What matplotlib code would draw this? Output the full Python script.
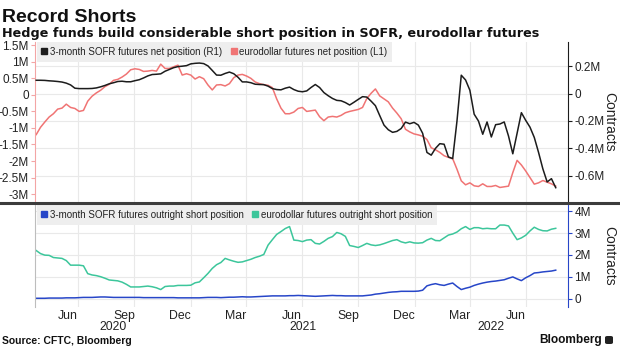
import matplotlib
matplotlib.use("Agg")
import matplotlib.pyplot as plt
import matplotlib.transforms as mtransforms
from matplotlib.lines import Line2D
from matplotlib.patches import FancyBboxPatch
from matplotlib.ticker import FuncFormatter
import pandas as pd

plt.rcParams['font.family'] = ['Liberation Sans', 'DejaVu Sans']

# Weekly CFTC positioning, millions of contracts
dates = pd.date_range('2020-04-24', periods=122, freq='7D')

sofr_net = [
    0.098, 0.098, 0.097, 0.094, 0.092, 0.089, 0.085, 0.077, 0.064, 0.040,
    0.037, 0.037, 0.037, 0.038, 0.042, 0.050, 0.060, 0.072, 0.080, 0.089,
    0.091, 0.087, 0.087, 0.095, 0.102, 0.115, 0.130, 0.140, 0.142, 0.145,
    0.164, 0.177, 0.190, 0.198, 0.201, 0.205, 0.218, 0.222, 0.224, 0.220,
    0.203, 0.170, 0.136, 0.135, 0.148, 0.158, 0.146, 0.120, 0.086, 0.086,
    0.080, 0.069, 0.067, 0.066, 0.055, 0.037, 0.030, 0.028, 0.040, 0.048,
    0.030, 0.018, 0.014, 0.020, 0.045, 0.067, 0.045, 0.008, -0.015, -0.035,
    -0.049, -0.052, -0.065, -0.083, -0.063, -0.042, -0.022, -0.025, -0.055, -0.088,
    -0.160, -0.230, -0.264, -0.283, -0.276, -0.255, -0.208, -0.220, -0.210, -0.230,
    -0.290, -0.430, -0.450, -0.400, -0.366, -0.370, -0.463, -0.475, -0.200, 0.135,
    0.100, 0.025, -0.150, -0.200, -0.297, -0.207, -0.317, -0.227, -0.222, -0.207,
    -0.310, -0.440, -0.290, -0.139, -0.195, -0.245, -0.320, -0.430, -0.550, -0.646,
    -0.622, -0.688,
]

eurodollar_net = [
    -1.20, -0.98, -0.82, -0.67, -0.57, -0.43, -0.40, -0.28, -0.38, -0.41,
    -0.50, -0.47, -0.19, -0.04, 0.06, 0.14, 0.25, 0.32, 0.44, 0.47,
    0.54, 0.63, 0.76, 0.79, 0.77, 0.71, 0.72, 0.74, 0.72, 0.93,
    0.80, 0.80, 0.85, 0.90, 0.60, 0.64, 0.60, 0.48, 0.55, 0.49,
    0.30, 0.15, 0.30, 0.31, 0.27, 0.34, 0.52, 0.60, 0.62, 0.57,
    0.50, 0.39, 0.34, 0.31, 0.29, 0.22, -0.12, -0.40, -0.57, -0.57,
    -0.52, -0.41, -0.38, -0.50, -0.48, -0.46, -0.66, -0.78, -0.67, -0.65,
    -0.67, -0.62, -0.54, -0.50, -0.47, -0.44, -0.38, -0.11, 0.05, 0.18,
    -0.03, -0.12, -0.21, -0.40, -0.55, -0.72, -1.04, -1.12, -1.18, -1.21,
    -1.25, -1.35, -1.60, -1.66, -1.74, -1.84, -1.89, -1.93, -2.25, -2.60,
    -2.72, -2.66, -2.75, -2.77, -2.69, -2.77, -2.77, -2.74, -2.80, -2.78,
    -2.76, -2.35, -1.98, -2.12, -2.30, -2.50, -2.70, -2.66, -2.59, -2.64,
    -2.69, -2.76,
]

sofr_short = [
    0.01, 0.01, 0.01, 0.02, 0.02, 0.02, 0.02, 0.03, 0.03, 0.03,
    0.04, 0.05, 0.05, 0.05, 0.06, 0.07, 0.07, 0.06, 0.05, 0.05,
    0.05, 0.05, 0.05, 0.05, 0.05, 0.04, 0.04, 0.04, 0.04, 0.04,
    0.04, 0.04, 0.04, 0.03, 0.03, 0.03, 0.03, 0.03, 0.03, 0.04,
    0.05, 0.05, 0.05, 0.04, 0.05, 0.06, 0.06, 0.07, 0.08, 0.07,
    0.07, 0.08, 0.09, 0.10, 0.11, 0.12, 0.12, 0.12, 0.12, 0.13,
    0.13, 0.14, 0.13, 0.12, 0.11, 0.10, 0.11, 0.12, 0.13, 0.14,
    0.13, 0.13, 0.12, 0.12, 0.12, 0.12, 0.12, 0.14, 0.16, 0.20,
    0.22, 0.25, 0.28, 0.30, 0.31, 0.33, 0.33, 0.33, 0.33, 0.34,
    0.38, 0.58, 0.64, 0.68, 0.63, 0.60, 0.66, 0.71, 0.55, 0.41,
    0.47, 0.52, 0.60, 0.66, 0.71, 0.75, 0.78, 0.80, 0.83, 0.86,
    0.93, 0.99, 0.90, 0.82, 0.95, 1.05, 1.17, 1.19, 1.22, 1.24,
    1.26, 1.30,
]

eurodollar_short = [
    2.20, 2.06, 1.99, 1.98, 1.88, 1.86, 1.84, 1.74, 1.53, 1.53,
    1.53, 1.50, 1.14, 1.08, 1.05, 1.00, 0.93, 0.85, 0.83, 0.81,
    0.75, 0.65, 0.53, 0.53, 0.53, 0.55, 0.57, 0.54, 0.49, 0.41,
    0.55, 0.57, 0.57, 0.60, 0.60, 0.60, 0.61, 0.72, 0.76, 0.95,
    1.15, 1.38, 1.55, 1.65, 1.84, 1.77, 1.71, 1.66, 1.68, 1.74,
    1.80, 1.88, 1.94, 2.02, 2.45, 2.70, 2.94, 3.07, 3.21, 3.30,
    2.68, 2.66, 2.61, 2.68, 2.70, 2.53, 2.50, 2.62, 2.76, 2.84,
    3.03, 2.97, 2.85, 2.43, 2.39, 2.34, 2.43, 2.53, 2.46, 2.43,
    2.46, 2.52, 2.59, 2.66, 2.70, 2.60, 2.55, 2.60, 2.55, 2.54,
    2.56, 2.68, 2.76, 2.66, 2.65, 2.78, 2.91, 2.96, 3.05, 3.20,
    3.30, 3.17, 3.25, 3.25, 3.20, 3.22, 3.20, 3.20, 3.37, 3.37,
    3.33, 3.00, 2.70, 2.78, 2.90, 3.10, 3.27, 3.17, 3.11, 3.10,
    3.18, 3.22,
]

net_left_ticks = [1.5, 1, 0.5, 0, -0.5, -1, -1.5, -2, -2.5, -3]
net_right_ticks = [0.2, 0, -0.2, -0.4, -0.6]
short_ticks = [0, 1, 2, 3, 4]
month_labels = ['Jun', 'Sep', 'Dec', 'Mar', 'Jun', 'Sep', 'Dec', 'Mar', 'Jun']
month_label_dates = pd.to_datetime([
    '2020-06-15', '2020-09-15', '2020-12-15', '2021-03-15', '2021-06-15',
    '2021-09-15', '2021-12-15', '2022-03-15', '2022-06-15'])
year_labels = ['2020', '2021', '2022']

top_legend = ['3-month SOFR futures net position (R1)',
              'eurodollar futures net position (L1)']
bottom_legend = ['3-month SOFR futures outright short position',
                 'eurodollar futures outright short position']

BLACK = '#1c1c1c'
RED = '#f07474'
PINK = '#f3a5a5'
GREEN = '#3cc69b'
BLUE = '#2746c8'
GRID = '#e9e9e9'
TEXT = '#222222'
LEGEND_BG = '#eeeeee'

W, H = 620, 348
fig = plt.figure(figsize=(W / 100, H / 100), dpi=100)
fig.patch.set_facecolor('white')


def rect(x0, y0, x1, y1):
    return [x0 / W, 1 - y1 / H, (x1 - x0) / W, (y1 - y0) / H]


def fy(py):
    return 1 - py / H


def fmt_m(v, pos=None):
    if abs(v) < 1e-9:
        return '0'
    return f'{v:g}M'


xmin = pd.Timestamp('2020-04-22')
xmax = pd.Timestamp('2022-09-08')
quarter_starts = pd.date_range('2020-07-01', '2022-07-01', freq='QS')

# ---- upper panel: net positions ----
top_rect = rect(35, 42, 568, 203)

ax_grid = fig.add_axes(top_rect)
ax_grid.set_xlim(xmin, xmax)
ax_grid.set_ylim(-0.80, 0.378)
ax_grid.set_xticks(quarter_starts)
ax_grid.set_yticks(net_right_ticks)
ax_grid.grid(True, color=GRID, lw=0.8)
ax_grid.tick_params(length=0, labelbottom=False, labelleft=False)
for s in ax_grid.spines.values():
    s.set_visible(False)

ax_l = fig.add_axes(top_rect)
ax_l.patch.set_visible(False)
ax_l.plot(dates, eurodollar_net, color=RED, lw=1.1)
ax_l.set_xlim(xmin, xmax)
ax_l.set_ylim(-3.27, 1.6)
ax_l.set_xticks([])
ax_l.set_yticks(net_left_ticks)
ax_l.yaxis.set_major_formatter(FuncFormatter(fmt_m))
for side in ('top', 'right', 'bottom'):
    ax_l.spines[side].set_visible(False)
ax_l.spines['left'].set_color(PINK)
ax_l.spines['left'].set_linewidth(0.8)
ax_l.tick_params(axis='y', color=PINK, labelcolor=TEXT, length=3, width=0.8,
                 pad=1.5, labelsize=8.5)

ax_r = ax_l.twinx()
ax_r.plot(dates, sofr_net, color=BLACK, lw=1.1)
ax_r.set_xlim(xmin, xmax)
ax_r.set_ylim(-0.80, 0.378)
ax_r.set_yticks(net_right_ticks)
ax_r.yaxis.set_major_formatter(FuncFormatter(fmt_m))
for side in ('top', 'left', 'bottom'):
    ax_r.spines[side].set_visible(False)
ax_r.spines['right'].set_color(BLACK)
ax_r.spines['right'].set_linewidth(0.8)
ax_r.tick_params(axis='y', color=BLACK, labelcolor=TEXT, length=3, width=0.8,
                 pad=1.5, labelsize=8.5)

handles = [Line2D([], [], ls='none', marker='s', ms=5, color=BLACK),
           Line2D([], [], ls='none', marker='s', ms=5, color=RED)]
leg = ax_r.legend(handles, top_legend, loc='upper left', bbox_to_anchor=(0.003, 1.0),
                  ncol=2, frameon=True, fancybox=False, facecolor=LEGEND_BG,
                  edgecolor='none', framealpha=1, fontsize=7.0, handlelength=0.6,
                  handletextpad=0.25, columnspacing=0.9, borderpad=0.5,
                  borderaxespad=0)
for t in leg.get_texts():
    t.set_color(TEXT)

# ---- lower panel: outright short positions ----
bot_rect = rect(35, 205, 568, 307)
ax_b = fig.add_axes(bot_rect)
ax_b.plot(dates, eurodollar_short, color=GREEN, lw=1.1)
ax_b.plot(dates, sofr_short, color=BLUE, lw=1.1)
ax_b.set_xlim(xmin, xmax)
ax_b.set_ylim(-0.39, 4.29)
ax_b.yaxis.tick_right()
ax_b.set_yticks(short_ticks)
ax_b.yaxis.set_major_formatter(FuncFormatter(fmt_m))
ax_b.set_xticks(quarter_starts)
ax_b.set_xticks(month_label_dates, minor=True)
ax_b.set_xticklabels(month_labels, minor=True)
ax_b.tick_params(axis='x', which='major', length=0, labelbottom=False)
ax_b.tick_params(axis='x', which='minor', length=0, labelsize=8.8, pad=2.5,
                 labelcolor=TEXT)
ax_b.grid(True, which='major', color=GRID, lw=0.8)
ax_b.set_axisbelow(True)
for side in ('top', 'bottom'):
    ax_b.spines[side].set_visible(False)
ax_b.spines['left'].set_color('#bdbdbd')
ax_b.spines['left'].set_linewidth(0.8)
ax_b.spines['right'].set_color(BLUE)
ax_b.spines['right'].set_linewidth(0.8)
ax_b.tick_params(axis='y', color=BLUE, labelcolor=TEXT, length=3, width=0.8,
                 pad=1.5, labelsize=8.5)

handles_b = [Line2D([], [], ls='none', marker='s', ms=5, color=BLUE),
             Line2D([], [], ls='none', marker='s', ms=5, color=GREEN)]
leg_b = ax_b.legend(handles_b, bottom_legend, loc='upper left',
                    bbox_to_anchor=(0.003, 1.0), ncol=2, frameon=True,
                    fancybox=False, facecolor=LEGEND_BG, edgecolor='none',
                    framealpha=1, fontsize=7.0, handlelength=0.6,
                    handletextpad=0.25, columnspacing=0.9, borderpad=0.5,
                    borderaxespad=0)
for t in leg_b.get_texts():
    t.set_color(TEXT)

# year labels centred under each calendar year's span
year_trans = mtransforms.blended_transform_factory(ax_b.transData, fig.transFigure)
year_bounds = [xmin, pd.Timestamp('2021-01-01'), pd.Timestamp('2022-01-01'), xmax]
for i, label in enumerate(year_labels):
    mid = year_bounds[i] + (year_bounds[i + 1] - year_bounds[i]) / 2
    ax_b.text(mid, fy(330), label, transform=year_trans, ha='center',
              va='baseline', fontsize=8.8, color=TEXT)

# separator between panels
fig.add_artist(Line2D([0, 1], [fy(202.5)] * 2, transform=fig.transFigure,
                      color='#3c3c3c', lw=2.2))

# axis titles
fig.text(609 / W, fy(122), 'Contracts', rotation=270, ha='center', va='center',
         fontsize=10, color=TEXT)
fig.text(609 / W, fy(256), 'Contracts', rotation=270, ha='center', va='center',
         fontsize=10, color=TEXT)

# headline, subtitle, source and branding
fig.text(2 / W, fy(22), 'Record Shorts', fontsize=14, weight='bold',
         ha='left', va='baseline', color='#111111')
fig.text(2 / W, fy(37), 'Hedge funds build considerable short position in SOFR, eurodollar futures',
         fontsize=9.15, weight='bold', ha='left', va='baseline', color='#111111',
         family=['DejaVu Sans'])
fig.text(2 / W, fy(344), 'Source: CFTC, Bloomberg', fontsize=7.5, weight='bold',
         ha='left', va='baseline', color='#111111')
fig.text(602 / W, fy(343), 'Bloomberg', fontsize=8.6, weight='bold',
         ha='right', va='baseline', color='#111111')
fig.add_artist(FancyBboxPatch((605 / W, fy(344)), 8 / W, 8 / H,
                              boxstyle='round,pad=0,rounding_size=0.004',
                              transform=fig.transFigure, facecolor='#222222',
                              edgecolor='none'))

fig.savefig('out.png', dpi=100, facecolor='white')
